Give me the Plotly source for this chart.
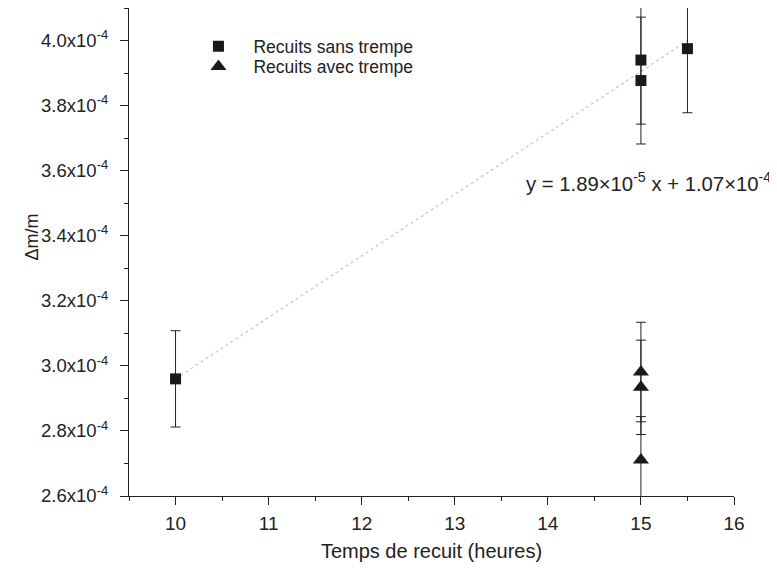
import plotly.graph_objects as go

# Data (Δm/m values in units of 1e-4)
sans_x = [10, 15, 15, 15.5]
sans_y = [2.96, 3.94, 3.877, 3.975]
sans_err = [0.148, 0.197, 0.195, 0.197]

avec_x = [15, 15, 15]
avec_y = [2.981, 2.934, 2.711]
avec_err = [0.153, 0.145, 0.133]

fit_slope = 1.89e-5
fit_intercept = 1.07e-4
fit_x = [10, 15.5]

y_ticks = [2.6, 2.8, 3.0, 3.2, 3.4, 3.6, 3.8, 4.0]
x_ticks = [10, 11, 12, 13, 14, 15, 16]

scale = 1e-4
FONT = "Liberation Sans, Arial, sans-serif"

fig = go.Figure()

fig.add_trace(go.Scatter(
    x=fit_x, y=[fit_slope * x + fit_intercept for x in fit_x],
    mode="lines", line=dict(color="rgb(215,205,208)", width=1.5, dash="dot"),
    showlegend=False, hoverinfo="skip"))

fig.add_trace(go.Scatter(
    x=sans_x, y=[v * scale for v in sans_y], mode="markers",
    name="Recuits sans trempe", legend="legend",
    marker=dict(symbol="square", size=11, color="#1a1a1a"),
    error_y=dict(type="data", array=[e * scale for e in sans_err],
                 color="#222", thickness=1, width=5)))

fig.add_trace(go.Scatter(
    x=avec_x, y=[v * scale for v in avec_y], mode="markers",
    name="Recuits avec trempe", legend="legend2",
    marker=dict(symbol="triangle-up", size=14, color="#1a1a1a"),
    error_y=dict(type="data", array=[e * scale for e in avec_err],
                 color="#222", thickness=1, width=5)))

fig.add_annotation(
    x=1.0645, y=3.564 * scale, xref="paper", yref="y", xanchor="right",
    yanchor="middle",
    text="y = 1.89×10<sup>-5</sup> x + 1.07×10<sup>-4</sup>",
    showarrow=False, font=dict(size=20.3, color="#222", family=FONT))

# y-axis title
fig.add_annotation(
    x=-0.16, y=0.53, xref="paper", yref="paper", xanchor="center",
    yanchor="middle", textangle=-90, text="Δm/m", showarrow=False,
    font=dict(size=18, color="#222", family=FONT))

legend_common = dict(xanchor="left", yanchor="top",
                     font=dict(size=17.5, color="#222", family=FONT),
                     itemwidth=60, bgcolor="rgba(0,0,0,0)")

fig.update_layout(
    width=769, height=563,
    margin=dict(l=121, r=43, t=0, b=75),
    plot_bgcolor="white", paper_bgcolor="white",
    font=dict(family=FONT, color="#222"),
    legend=dict(x=0.09, y=0.958, **legend_common),
    legend2=dict(x=0.09, y=0.917, **legend_common),
    xaxis=dict(range=[9.5, 16], tickvals=x_ticks,
               ticktext=[str(t) for t in x_ticks], automargin=False,
               showgrid=False, zeroline=False, showline=True,
               linecolor="#222", linewidth=1.3, ticks="outside",
               ticklen=8, tickwidth=1.3, tickcolor="#222",
               ticklabelstandoff=2,
               minor=dict(dtick=0.5, ticks="outside", ticklen=4,
                          tickwidth=1.2, tickcolor="#222", showgrid=False),
               tickfont=dict(size=19, family=FONT),
               title=dict(text="Temps de recuit (heures)",
                          font=dict(size=20, family=FONT), standoff=11)),
    yaxis=dict(range=[2.6 * scale, 4.1 * scale], automargin=False,
               tickvals=[t * scale for t in y_ticks],
               ticktext=[f"{t:.1f}x10<sup>-4</sup>" for t in y_ticks],
               showgrid=False, zeroline=False, showline=True,
               linecolor="#222", linewidth=1.3, ticks="outside",
               ticklen=8, tickwidth=1.3, tickcolor="#222",
               ticklabelstandoff=8,
               minor=dict(tickvals=[v * scale for v in [2.7, 2.9, 3.1, 3.3, 3.5, 3.7, 3.9, 4.1]],
                          ticks="outside", ticklen=4,
                          tickwidth=1.2, tickcolor="#222", showgrid=False),
               tickfont=dict(size=18.5, family=FONT)),
)

fig.write_html("out.html")
